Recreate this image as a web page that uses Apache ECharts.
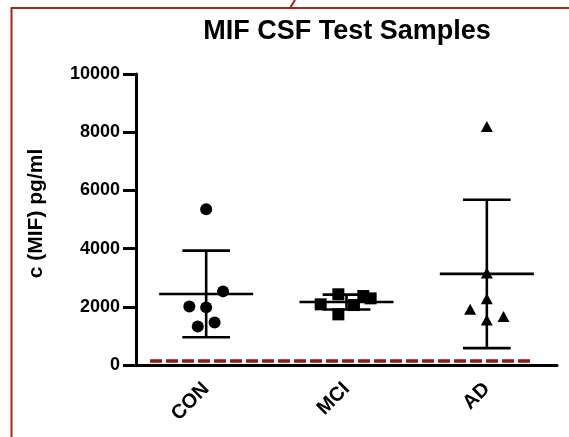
<!DOCTYPE html>
<html>
<head>
<meta charset="utf-8">
<script src="https://cdn.jsdelivr.net/npm/echarts@6/dist/echarts.min.js"></script>
<style>
  html, body { margin: 0; padding: 0; background: #fff; }
  #chart { width: 569px; height: 437px; }
</style>
</head>
<body>
<div id="chart"></div>
<script>
// Group names on the x axis
const categories = ['CON', 'MCI', 'AD'];

// MIF concentration per sample (pg/ml)
const conValues = [5350, 2530, 2010, 1980, 1320, 1460];
const mciValues = [2430, 2085, 1740, 2060, 2370, 2290];
const adValues  = [8200, 3160, 2280, 1920, 1550, 1670];

// Horizontal spread of each sample within its group (fraction of a category)
const conSpread = [0, 0.12, -0.12, 0, -0.06, 0.06];
const mciSpread = [-0.058, -0.184, -0.058, 0.053, 0.12, 0.172];
const adSpread  = [0, 0, 0, -0.119, 0, 0.119];

// Y axis range and step
const yMin = 0;
const yMax = 10000;
const yStep = 2000;

// Detection limit drawn as a dashed line, and its extent along x
const detectionLimit = 140;
const detectionSpan = [-0.4, 2.31];

const FONT = "'Liberation Sans', Arial, Helvetica, sans-serif";

function mean(a) { return a.reduce((s, v) => s + v, 0) / a.length; }
function sd(a) {
  const m = mean(a);
  return Math.sqrt(a.reduce((s, v) => s + (v - m) * (v - m), 0) / (a.length - 1));
}

const groups = [conValues, mciValues, adValues];
const spreads = [conSpread, mciSpread, adSpread];
const symbols = ['circle', 'rect', 'triangle'];
const symbolSizes = [12, 12, [12, 11]];

const summary = groups.map((g, i) => [i, mean(g), sd(g)]);

const pointSeries = groups.map((g, i) => ({
  type: 'scatter',
  name: categories[i],
  xAxisIndex: 1,
  symbol: symbols[i],
  symbolSize: symbolSizes[i],
  itemStyle: { color: '#000', opacity: 1 },
  z: 3,
  data: g.map((v, k) => [i + spreads[i][k], v])
}));

const chart = echarts.init(document.getElementById('chart'), null, { renderer: 'canvas' });

chart.setOption({
  animation: false,
  backgroundColor: '#fff',
  title: {
    text: 'MIF CSF Test Samples',
    left: 342,
    textAlign: 'center',
    top: 13,
    textStyle: { fontFamily: FONT, fontSize: 27, fontWeight: 'bold', color: '#000' }
  },
  grid: { left: 136, right: 12, top: 74, bottom: 72, containLabel: false },
  xAxis: [
    {
      type: 'category',
      data: categories,
      boundaryGap: true,
      axisLine: { onZero: false, lineStyle: { color: '#000', width: 3 } },
      axisTick: { alignWithLabel: true, length: 10, lineStyle: { color: '#000', width: 3 } },
      axisLabel: {
        rotate: 45, margin: 21,
        fontFamily: FONT, fontSize: 20, fontWeight: 'bold', color: '#000'
      },
      splitLine: { show: false }
    },
    {
      type: 'value',
      min: -0.5, max: 2.5,
      show: false,
      splitLine: { show: false }
    }
  ],
  yAxis: {
    type: 'value',
    min: yMin, max: yMax, interval: yStep,
    name: 'c (MIF) pg/ml',
    nameLocation: 'middle',
    nameGap: 89,
    nameRotate: 90,
    nameTextStyle: {
      fontFamily: FONT, fontSize: 21, fontWeight: 'bold', color: '#000',
      padding: [0, 0, 0, 12]
    },
    axisLine: { show: true, onZero: false, lineStyle: { color: '#000', width: 3 } },
    axisTick: { show: true, length: 13, lineStyle: { color: '#000', width: 3 } },
    axisLabel: {
      margin: 16, fontFamily: FONT, fontSize: 18, fontWeight: 'bold', color: '#000',
      formatter: v => String(v)
    },
    splitLine: { show: false }
  },
  graphic: [
    // Red frame around the panel
    {
      type: 'polyline',
      shape: { points: [[11.5, 437], [11.5, 8], [569, 8]] },
      style: { stroke: '#a3271b', lineWidth: 2, fill: null },
      silent: true
    },
    {
      type: 'line',
      shape: { x1: 290, y1: 8, x2: 295, y2: 0 },
      style: { stroke: '#a3271b', lineWidth: 2 },
      silent: true
    }
  ],
  series: [
    {
      type: 'line',
      name: 'limit',
      xAxisIndex: 1,
      symbol: 'none',
      lineStyle: { color: '#8f1a0e', width: 3.5, type: [12, 4] },
      z: 1,
      data: [[detectionSpan[0], detectionLimit], [detectionSpan[1], detectionLimit]]
    },
    ...pointSeries,
    {
      type: 'custom',
      name: 'mean ± SD',
      xAxisIndex: 0,
      z: 4,
      data: summary,
      renderItem: function (params, api) {
        const x = api.value(0), m = api.value(1), s = api.value(2);
        const c = api.coord([x, m]);
        const hi = api.coord([x, m + s]);
        const lo = api.coord([x, m - s]);
        const bw = api.size([1, 0])[0];
        const mw = bw * 0.335;
        const cw = bw * 0.17;
        const st = { stroke: '#000', lineWidth: 2.6 };
        return {
          type: 'group',
          children: [
            { type: 'line', shape: { x1: c[0] - mw, y1: c[1], x2: c[0] + mw, y2: c[1] }, style: st },
            { type: 'line', shape: { x1: c[0], y1: hi[1], x2: c[0], y2: lo[1] }, style: st },
            { type: 'line', shape: { x1: c[0] - cw, y1: hi[1], x2: c[0] + cw, y2: hi[1] }, style: st },
            { type: 'line', shape: { x1: c[0] - cw, y1: lo[1], x2: c[0] + cw, y2: lo[1] }, style: st }
          ]
        };
      }
    }
  ]
});
</script>
</body>
</html>
